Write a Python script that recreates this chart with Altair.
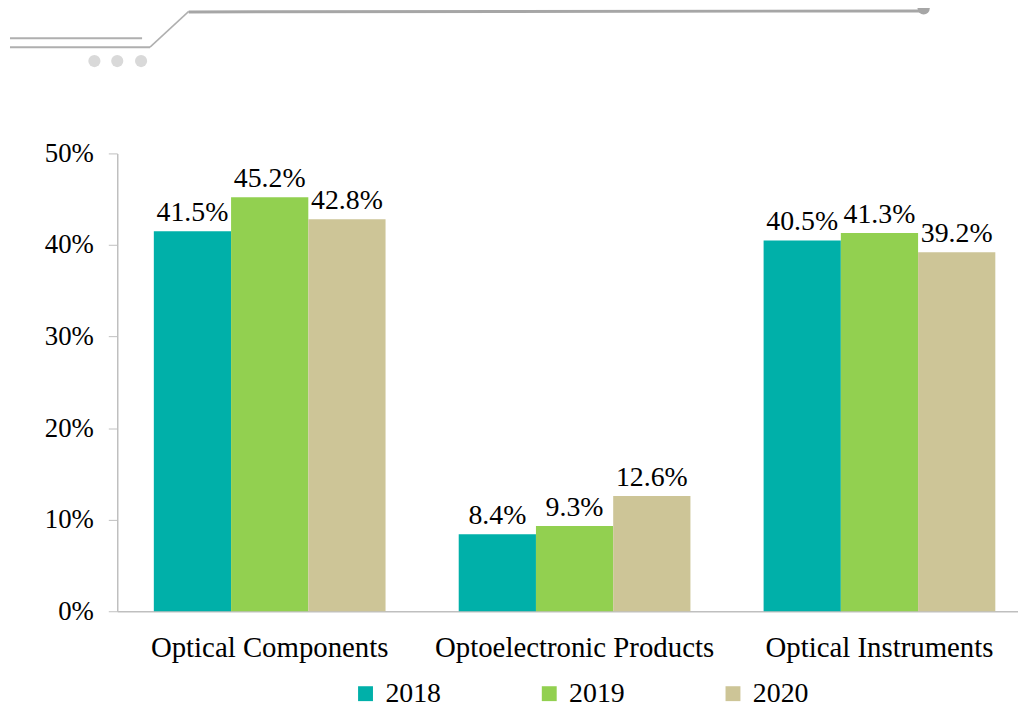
import altair as alt
import pandas as pd

categories = ["Optical Components", "Optoelectronic Products", "Optical Instruments"]
years = ["2018", "2019", "2020"]
share_2018 = [41.5, 8.4, 40.5]
share_2019 = [45.2, 9.3, 41.3]
share_2020 = [42.8, 12.6, 39.2]
y_ticks = [0, 10, 20, 30, 40, 50]
colors = ["#00B0A9", "#92D050", "#CDC597"]

rows = []
for yr, vals in zip(years, [share_2018, share_2019, share_2020]):
    for c, v in zip(categories, vals):
        rows.append({"category": c, "year": yr, "value": v})
df = pd.DataFrame(rows)

FONT = "Liberation Serif"
AXC = "#BFBFBF"

base = alt.Chart(df)

x_enc = alt.X("category:N", sort=categories,
              scale=alt.Scale(paddingInner=0.24, paddingOuter=0.12, range=[0, 921]),
              axis=alt.Axis(title=None, labelAngle=0, labelFont=FONT, labelFontSize=29,
                            labelColor="black", labelPadding=23, ticks=False, labelLimit=500,
                            domainColor=AXC, domainWidth=1.5))
y_enc = alt.Y("value:Q", scale=alt.Scale(domain=[0, 50], nice=False),
              axis=alt.Axis(title=None, values=y_ticks, labelExpr="datum.value + '%'",
                            grid=False, labelFont=FONT, labelFontSize=27, labelColor="black",
                            labelPadding=15, tickSize=9, tickColor=AXC, domainColor=AXC,
                            domainWidth=1.5))
xo = alt.XOffset("year:N", sort=years, scale=alt.Scale(paddingInner=0, paddingOuter=0))

bars = base.mark_bar().encode(
    x=x_enc, y=y_enc, xOffset=xo,
    color=alt.Color("year:N", sort=years,
                    scale=alt.Scale(domain=years, range=colors),
                    legend=alt.Legend(title=None, orient="none", legendX=236, legendY=530,
                                      direction="horizontal", symbolType="square",
                                      symbolSize=225, symbolStrokeWidth=0,
                                      labelFont=FONT, labelFontSize=28, labelColor="black",
                                      labelOffset=6, columnPadding=95)),
)

labels = base.transform_calculate(
    lbl="format(datum.value, '.1f') + '%'"
).mark_text(font=FONT, fontSize=28, color="black", baseline="alphabetic", dy=-10).encode(
    x=alt.X("category:N", sort=categories), y="value:Q", xOffset=xo, text="lbl:N"
)

one = alt.Data(values=[{"d": 0}])
deco_c = "#AFAFAF"
deco = [
    alt.Chart(one).mark_rule(color=deco_c, strokeWidth=2).encode(
        x=alt.value(-108), x2=alt.value(25), y=alt.value(-116), y2=alt.value(-116)),
    alt.Chart(one).mark_rule(color=deco_c, strokeWidth=2).encode(
        x=alt.value(-108), x2=alt.value(33), y=alt.value(-107), y2=alt.value(-107)),
    alt.Chart(one).mark_rule(color=deco_c, strokeWidth=1.5).encode(
        x=alt.value(33), x2=alt.value(72), y=alt.value(-107), y2=alt.value(-143)),
    alt.Chart(one).mark_rule(color="#A6A6A6", strokeWidth=3).encode(
        x=alt.value(72), x2=alt.value(812), y=alt.value(-142.5), y2=alt.value(-143.5)),
    alt.Chart(one).mark_point(filled=True, shape="circle", size=150, color="#A6A6A6", opacity=1).encode(
        x=alt.value(812), y=alt.value(-146)),
]
for px in [-23, 0, 24]:
    deco.append(alt.Chart(one).mark_point(filled=True, shape="circle", size=150,
                                          color="#D9D9D9", opacity=1).encode(
        x=alt.value(px), y=alt.value(-93)))

chart = alt.layer(bars, labels, *deco).properties(
    width=907, height=461, autosize="none",
    padding={"left": 110, "top": 144, "right": 0, "bottom": 96},
).configure(font=FONT).configure_view(stroke=None).configure_legend(
    labelFont=FONT).configure_text(font=FONT)

chart.save("out.html", embed_options={"renderer": "svg", "actions": False})
